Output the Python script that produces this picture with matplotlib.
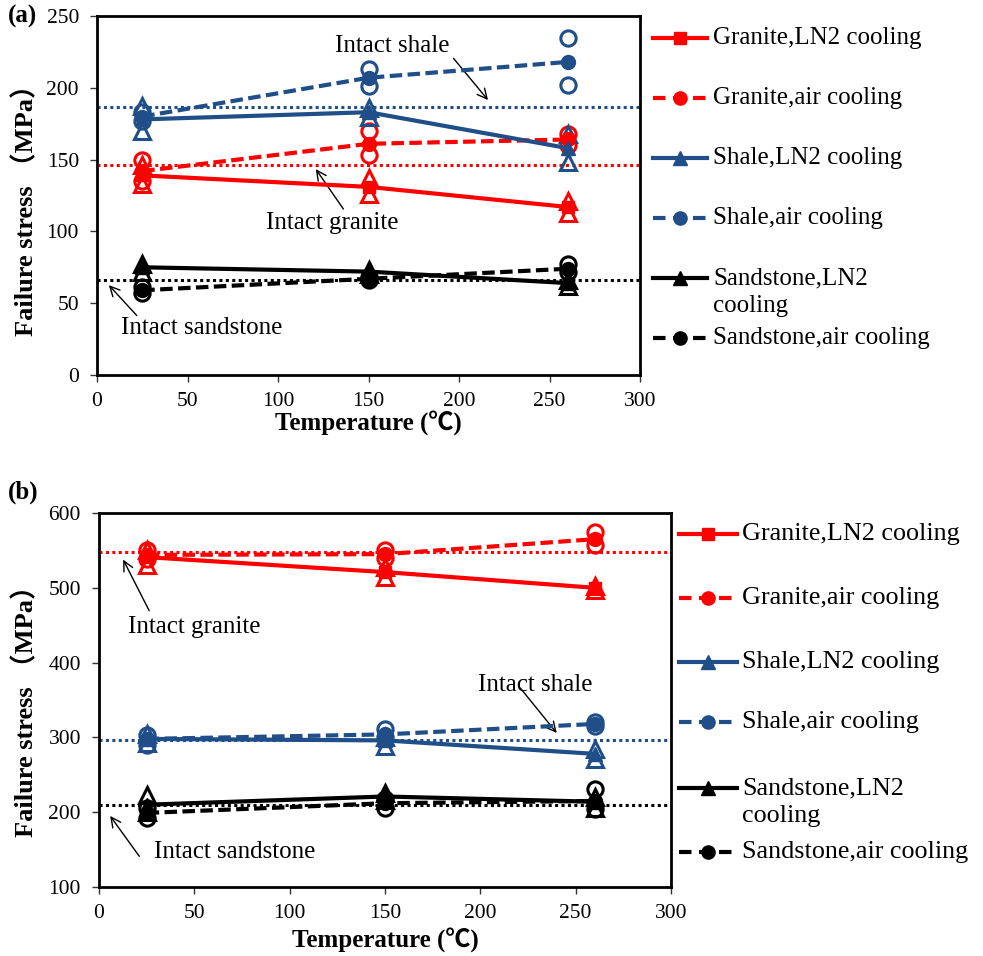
import matplotlib
matplotlib.use('Agg')
import matplotlib.pyplot as plt
from matplotlib.lines import Line2D

plt.rcParams['font.family'] = ['Liberation Serif', 'DejaVu Serif', 'Noto Sans CJK SC']
plt.rcParams['axes.unicode_minus'] = False

# 温度
temps = [25, 150, 260]

# ---- (a) 平均值 ----
granite_ln2_a = [139, 131, 117]
granite_air_a = [142, 161, 164]
shale_ln2_a = [178, 183, 158]
shale_air_a = [180, 207, 218]
sand_ln2_a = [75, 72, 64]
sand_air_a = [59, 67, 74]

# (a) 单个试样 (每个温度两个)
granite_ln2_a_pts = [[133, 146], [126, 137], [113, 121]]
granite_air_a_pts = [[150, 135], [170, 153], [168, 160]]
shale_ln2_a_pts = [[187, 170], [186, 180], [168, 148]]
shale_air_a_pts = [[183, 177], [213, 201], [235, 202]]
sand_ln2_a_pts = [[77, 72], [73, 70], [66, 62]]
sand_air_a_pts = [[61, 57], [68, 66], [77, 72]]

# (a) 完整岩石
intact_a = {'granite': 146, 'shale': 186.5, 'sand': 66.5}

# ---- (b) 平均值 ----
granite_ln2_b = [541, 521, 500]
granite_air_b = [544, 545, 565]
shale_ln2_b = [298, 296, 278]
shale_air_b = [298, 304, 318]
sand_ln2_b = [210, 221, 214]
sand_air_b = [199, 212, 215]

granite_ln2_b_pts = [[551, 530], [528, 514], [503, 497]]
granite_air_b_pts = [[550, 538], [550, 540], [574, 557]]
shale_ln2_b_pts = [[304, 292], [300, 289], [284, 271]]
shale_air_b_pts = [[303, 290], [311, 300], [321, 315]]
sand_ln2_b_pts = [[223, 200], [226, 216], [220, 205]]
sand_air_b_pts = [[205, 192], [218, 205], [231, 204]]

intact_b = {'granite': 548, 'shale': 296, 'sand': 210}

RED = '#FF0000'
BLUE = '#1F4E89'
BLACK = '#000000'
SOLID = '-'
DASH = (0, (3, 1.3))
DOT = (0, (1, 1.1))

labels = ['Granite,LN2 cooling', 'Granite,air cooling', 'Shale,LN2 cooling',
          'Shale,air cooling', 'Sandstone,LN2\ncooling', 'Sandstone,air cooling']
styles = [(RED, SOLID, 's'), (RED, DASH, 'o'), (BLUE, SOLID, '^'),
          (BLUE, DASH, 'o'), (BLACK, SOLID, '^'), (BLACK, DASH, 'o')]


def draw_panel(ax, means, pts, intact, ylim, yticks):
    # 单个试样：空心
    for (c, ls, m), p in zip(styles, pts):
        hm = '^' if ls == SOLID else 'o'
        for t, vals in zip(temps, p):
            ax.plot([t] * len(vals), vals, ls='none', marker=hm, ms=11,
                    mfc='none', mec=c, mew=2.2, zorder=3)
    # 完整岩石虚线
    ax.axhline(intact['shale'], color=BLUE, ls=DOT, lw=2.2, zorder=2)
    ax.axhline(intact['granite'], color=RED, ls=DOT, lw=2.2, zorder=2)
    ax.axhline(intact['sand'], color=BLACK, ls=DOT, lw=2.2, zorder=2)
    # 平均值
    for (c, ls, m), y in zip(styles, means):
        ms = 9 if m == 's' else 10
        ax.plot(temps, y, color=c, ls=ls, lw=3, marker=m, ms=ms, mfc=c, mec=c, zorder=4)
    ax.set_xlim(0, 300)
    ax.set_ylim(*ylim)
    ax.set_xticks(range(0, 301, 50))
    ax.set_yticks(yticks)
    for s in ax.spines.values():
        s.set_linewidth(2)
        s.set_color('black')
    ax.tick_params(axis='x', direction='out', length=5, width=1, labelsize=15.5, pad=7,
                   colors='#333333', labelcolor='black')
    ax.tick_params(axis='y', direction='out', length=5, width=1, labelsize=15.5, pad=8,
                   colors='#333333', labelcolor='black')
    ax.set_xlabel('Temperature (℃)', fontsize=18, fontweight='bold',
                  family=['Liberation Serif', 'Noto Sans CJK SC'])
    ax.set_ylabel('Failure stress （MPa）', fontsize=19, fontweight='bold')
    ax.xaxis.label.set_va('center')
    ax.yaxis.label.set_va('center')


def draw_legend(fig, x0, x1, xt, rows, fs):
    W, H = 983.0, 956.0
    for (c, ls, m), lab, y in zip(styles, labels, rows):
        yf = 1 - y / H
        hls = '-' if ls == SOLID else (0, (3, 1.8))
        fig.add_artist(Line2D([x0 / W, x1 / W], [yf, yf], color=c, lw=3, ls=hls,
                              transform=fig.transFigure))
        xm = (x0 + x1) / 2 / W
        fig.add_artist(Line2D([xm], [yf], marker=m, ms=9 if m == 's' else 9.5, color=c,
                              ls='none', transform=fig.transFigure))
        for k, part in enumerate(lab.split('\n')):
            fig.text(xt / W, 1 - (y + k * 28) / H, part, fontsize=fs, va='center', ha='left')


fig = plt.figure(figsize=(9.83, 9.56), dpi=100)
arrow = dict(arrowstyle='->,head_length=0.7,head_width=0.35', lw=1, color='black')

# (a)
ax1 = fig.add_axes([97 / 983, 1 - 375 / 956, 543 / 983, 359 / 956])
draw_panel(ax1,
           [granite_ln2_a, granite_air_a, shale_ln2_a, shale_air_a, sand_ln2_a, sand_air_a],
           [granite_ln2_a_pts, granite_air_a_pts, shale_ln2_a_pts, shale_air_a_pts,
            sand_ln2_a_pts, sand_air_a_pts],
           intact_a, (0, 250), range(0, 251, 50))
ax1.yaxis.set_label_coords(-0.131, 0.476)
ax1.xaxis.set_label_coords(0.5, -0.134)

ax1.text(163, 229, 'Intact shale', fontsize=18, ha='center', va='center')
ax1.annotate('', xy=(217, 190), xytext=(196, 222), arrowprops=arrow)
ax1.text(130, 106, 'Intact granite', fontsize=18, ha='center', va='center')
ax1.annotate('', xy=(120, 145), xytext=(137, 114), arrowprops=arrow)
ax1.text(58, 33, 'Intact sandstone', fontsize=18, ha='center', va='center')
ax1.annotate('', xy=(5.5, 64), xytext=(23, 40), arrowprops=arrow)

# (b)
ax2 = fig.add_axes([99 / 983, 1 - 887 / 956, 572 / 983, 374 / 956])
draw_panel(ax2,
           [granite_ln2_b, granite_air_b, shale_ln2_b, shale_air_b, sand_ln2_b, sand_air_b],
           [granite_ln2_b_pts, granite_air_b_pts, shale_ln2_b_pts, shale_air_b_pts,
            sand_ln2_b_pts, sand_air_b_pts],
           intact_b, (100, 600), range(100, 601, 100))
ax2.yaxis.set_label_coords(-0.129, 0.487)
ax2.xaxis.set_label_coords(0.5, -0.142)

ax2.text(50, 447, 'Intact granite', fontsize=18, ha='center', va='center')
ax2.annotate('', xy=(12, 541), xytext=(27, 466), arrowprops=arrow)
ax2.text(229, 370, 'Intact shale', fontsize=18, ha='center', va='center')
ax2.annotate('', xy=(241, 303), xytext=(220, 369), arrowprops=arrow)
ax2.text(71, 147, 'Intact sandstone', fontsize=18, ha='center', va='center')
ax2.annotate('', xy=(5, 198), xytext=(22, 138), arrowprops=arrow)

# 图例
draw_legend(fig, 653, 707, 713, [38, 98, 158, 218, 278, 338], 18)
draw_legend(fig, 679, 737, 742, [534, 598, 662, 722, 788, 852], 18.8)

fig.text(8 / 983, 1 - 16 / 956, '(a)', fontsize=18, fontweight='bold', va='center')
fig.text(8 / 983, 1 - 492 / 956, '(b)', fontsize=18, fontweight='bold', va='center')

fig.savefig('out.png', dpi=100)
